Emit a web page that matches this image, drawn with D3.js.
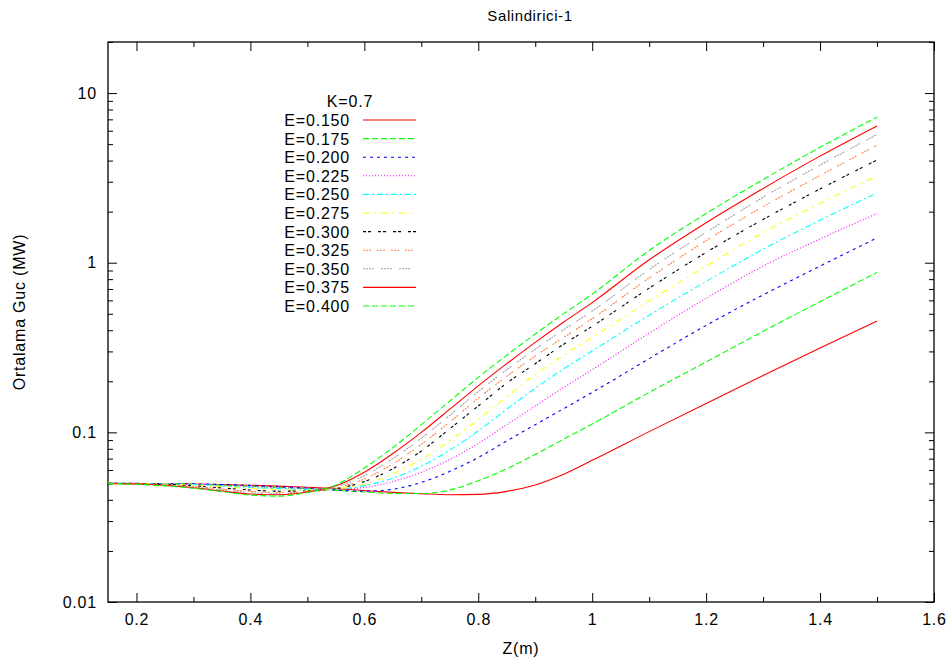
<!DOCTYPE html>
<html>
<head>
<meta charset="utf-8">
<script src="https://cdn.jsdelivr.net/npm/d3@7"></script>
<style>
  body { margin: 0; background: #fff; }
  text { font-family: "Liberation Sans", Arial, sans-serif; fill: #000; }
</style>
</head>
<body>
<div id="chart"></div>
<script>
// x values (Z in m) shared by every curve
var zVals = [0.15,0.2,0.25,0.3,0.35,0.4,0.45,0.5,0.55,0.6,0.65,0.7,0.75,0.8,0.85,0.9,0.95,1.0,1.1,1.2,1.3,1.4,1.5];

// Ortalama Guc (MW), one array per E
var p150 = [0.0500,0.0499,0.0498,0.0496,0.0492,0.0488,0.0482,0.0475,0.0466,0.0454,0.0443,0.0435,0.0429,0.0431,0.0449,0.0490,0.0567,0.0684,0.101,0.148,0.216,0.314,0.453];
var p175 = [0.0500,0.0500,0.0499,0.0494,0.0489,0.0482,0.0474,0.0466,0.0455,0.0445,0.0437,0.0436,0.0457,0.0519,0.0610,0.0741,0.0912,0.112,0.172,0.260,0.394,0.589,0.877];
var p200 = [0.0500,0.0500,0.0499,0.0497,0.0493,0.0486,0.0478,0.0469,0.0457,0.0450,0.0462,0.0507,0.0589,0.0711,0.0891,0.111,0.138,0.172,0.272,0.427,0.646,0.955,1.40];
var p225 = [0.0500,0.0500,0.0498,0.0494,0.0488,0.0480,0.0472,0.0466,0.0463,0.0473,0.0513,0.0582,0.0692,0.0861,0.111,0.143,0.184,0.234,0.385,0.617,0.955,1.38,1.95];
var p250 = [0.0500,0.0499,0.0497,0.0493,0.0483,0.0473,0.0466,0.0461,0.0463,0.0484,0.0537,0.0631,0.0785,0.102,0.137,0.182,0.237,0.302,0.490,0.776,1.20,1.78,2.58];
var p275 = [0.0500,0.0499,0.0496,0.0489,0.0478,0.0466,0.0458,0.0456,0.0465,0.0495,0.0569,0.0692,0.0891,0.119,0.162,0.219,0.285,0.363,0.596,0.955,1.50,2.24,3.24];
var p300 = [0.0500,0.0498,0.0494,0.0484,0.0470,0.0457,0.0450,0.0451,0.0466,0.0513,0.0610,0.0776,0.105,0.143,0.195,0.254,0.331,0.422,0.708,1.15,1.80,2.72,4.03];
var p325 = [0.0500,0.0498,0.0491,0.0480,0.0463,0.0449,0.0442,0.0447,0.0470,0.0531,0.0653,0.0851,0.115,0.159,0.214,0.282,0.363,0.468,0.813,1.35,2.14,3.27,4.93];
var p350 = [0.0500,0.0497,0.0489,0.0475,0.0457,0.0441,0.0435,0.0445,0.0476,0.0556,0.0700,0.0923,0.126,0.174,0.234,0.309,0.403,0.519,0.912,1.51,2.43,3.76,5.70];
var p375 = [0.0500,0.0496,0.0486,0.0471,0.0451,0.0433,0.0429,0.0445,0.0484,0.0582,0.0750,0.100,0.137,0.188,0.254,0.339,0.447,0.582,1.04,1.72,2.74,4.25,6.40];
var p400 = [0.0500,0.0494,0.0484,0.0468,0.0447,0.0427,0.0421,0.0442,0.0490,0.0617,0.0813,0.111,0.153,0.211,0.285,0.380,0.501,0.653,1.18,1.95,3.09,4.79,7.21];

var seriesLabels = ["E=0.150","E=0.175","E=0.200","E=0.225","E=0.250","E=0.275","E=0.300","E=0.325","E=0.350","E=0.375","E=0.400"];
var seriesValues = [p150,p175,p200,p225,p250,p275,p300,p325,p350,p375,p400];

var xTicks = [0.2,0.4,0.6,0.8,1.0,1.2,1.4,1.6];
var xMinorTicks = [0.3,0.5,0.7,0.9,1.1,1.3,1.5];
var yTicks = [0.01,0.1,1,10];

// gnuplot style line colours / dash patterns
var lineColors = ["#ff0000","#00ff00","#0000ff","#ff00ff","#00ffff","#ffff00","#000000","#ff8040","#a0a0a0","#ff0000","#00ff00"];
var lineDashes = [null,"6,3","3,4","1,2","6,3,2,3","6,5,2,5","3,2,3,7","2,1,2,1,2,6","2,1,2,1,2,1,2,7",null,"6,3"];

var width = 951, height = 666;
// plot box (window.top is read-only, so no bare "top")
var plotL = 108, plotR = 934, plotT = 42, plotB = 602;

var svg = d3.select("#chart").append("svg")
  .attr("width", width)
  .attr("height", height);

var x = d3.scaleLinear().domain([0.15, 1.6]).range([plotL, plotR]);
var y = d3.scaleLog().domain([0.01, 20]).range([plotB, plotT]);

// minor ticks on y: 2..9 of each decade
var yMinorTicks = [];
[0.01,0.1,1,10].forEach(function(d) {
  for (var k = 2; k <= 9; k++) {
    if (d * k <= 20) yMinorTicks.push(d * k);
  }
});

var fmt = function(d) { return d3.format("~g")(d); };

function styleAxis(g) {
  g.select(".domain").remove();
  g.selectAll("line").attr("stroke", "#000").attr("stroke-width", 1);
  g.selectAll("text")
    .style("font-size", "16px")
    .style("letter-spacing", "0.8px");
}

// bottom
svg.append("g").attr("transform", "translate(0," + plotB + ")")
  .call(d3.axisBottom(x).tickValues(xTicks).tickFormat(fmt).tickSize(-9).tickPadding(12))
  .call(styleAxis);
svg.append("g").attr("transform", "translate(0," + plotB + ")")
  .call(d3.axisBottom(x).tickValues(xMinorTicks).tickFormat("").tickSize(-5))
  .call(styleAxis);
// top
svg.append("g").attr("transform", "translate(0," + plotT + ")")
  .call(d3.axisTop(x).tickValues(xTicks).tickFormat("").tickSize(-9))
  .call(styleAxis);
svg.append("g").attr("transform", "translate(0," + plotT + ")")
  .call(d3.axisTop(x).tickValues(xMinorTicks).tickFormat("").tickSize(-5))
  .call(styleAxis);
// left
svg.append("g").attr("transform", "translate(" + plotL + ",0)")
  .call(d3.axisLeft(y).tickValues(yTicks).tickFormat(fmt).tickSize(-9).tickPadding(11))
  .call(styleAxis);
svg.append("g").attr("transform", "translate(" + plotL + ",0)")
  .call(d3.axisLeft(y).tickValues(yMinorTicks).tickFormat("").tickSize(-5))
  .call(styleAxis);
// right
svg.append("g").attr("transform", "translate(" + plotR + ",0)")
  .call(d3.axisRight(y).tickValues(yTicks).tickFormat("").tickSize(-9))
  .call(styleAxis);
svg.append("g").attr("transform", "translate(" + plotR + ",0)")
  .call(d3.axisRight(y).tickValues(yMinorTicks).tickFormat("").tickSize(-5))
  .call(styleAxis);

// frame
svg.append("rect")
  .attr("x", plotL).attr("y", plotT)
  .attr("width", plotR - plotL).attr("height", plotB - plotT)
  .attr("fill", "none").attr("stroke", "#000").attr("stroke-width", 1.3);

// curves
var line = d3.line()
  .x(function(d) { return x(d[0]); })
  .y(function(d) { return y(d[1]); })
  .curve(d3.curveMonotoneX);

var plot = svg.append("g");
seriesValues.forEach(function(vals, i) {
  plot.append("path")
    .datum(zVals.map(function(z, j) { return [z, vals[j]]; }))
    .attr("d", line)
    .attr("fill", "none")
    .attr("stroke", lineColors[i])
    .attr("stroke-width", 1.1)
    .attr("stroke-dasharray", lineDashes[i]);
});

// legend
var legX = 350, legY0 = 120, legStep = 18.6;
svg.append("text")
  .text("K=0.7")
  .attr("x", legX).attr("y", legY0 - 19 + 6)
  .attr("text-anchor", "middle")
  .style("font-size", "16px")
  .style("letter-spacing", "0.8px");

var leg = svg.append("g");
seriesLabels.forEach(function(lab, i) {
  var ly = legY0 + i * legStep;
  leg.append("text")
    .text(lab)
    .attr("x", legX).attr("y", ly + 6)
    .attr("text-anchor", "end")
    .style("font-size", "16px")
    .style("letter-spacing", "0.8px");
  leg.append("line")
    .attr("x1", 363).attr("x2", 416)
    .attr("y1", ly).attr("y2", ly)
    .attr("stroke", lineColors[i])
    .attr("stroke-width", 1.1)
    .attr("stroke-dasharray", lineDashes[i]);
});

// titles
svg.append("text")
  .text("Salindirici-1")
  .attr("x", 530).attr("y", 21)
  .attr("text-anchor", "middle")
  .style("font-size", "15px")
  .style("letter-spacing", "0.6px");

svg.append("text")
  .text("Z(m)")
  .attr("x", 521).attr("y", 654)
  .attr("text-anchor", "middle")
  .style("font-size", "16px")
  .style("letter-spacing", "0.8px");

svg.append("text")
  .text("Ortalama Guc (MW)")
  .attr("transform", "translate(25,312) rotate(-90)")
  .attr("text-anchor", "middle")
  .style("font-size", "16px")
  .style("letter-spacing", "0.8px");
</script>
</body>
</html>
